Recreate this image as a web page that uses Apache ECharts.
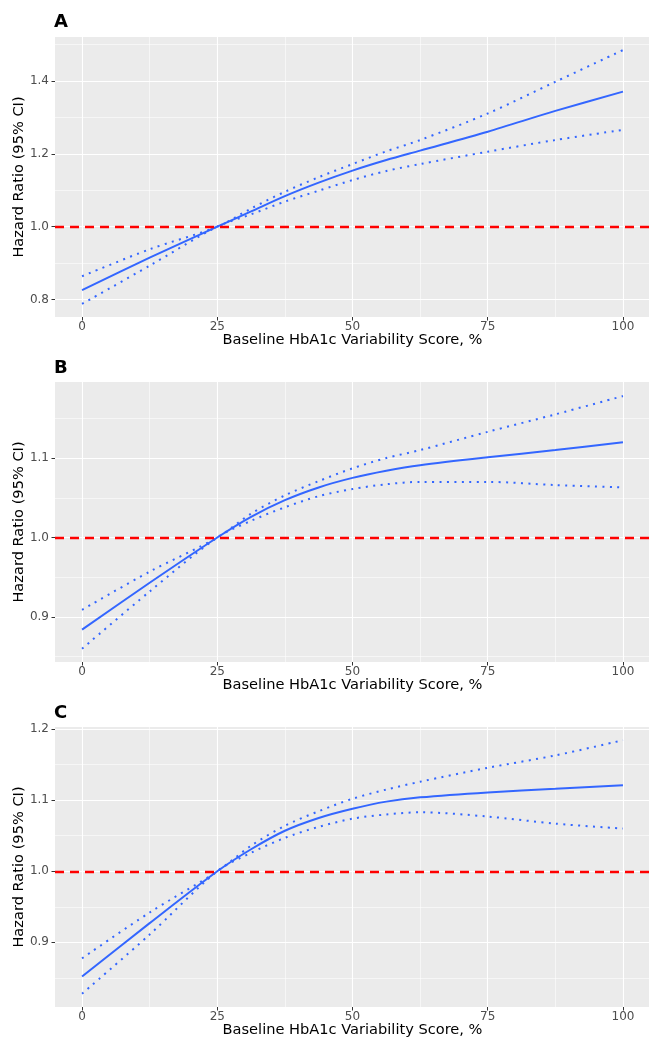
<!DOCTYPE html>
<html><head><meta charset="utf-8">
<script src="https://cdn.jsdelivr.net/npm/echarts@6/dist/echarts.min.js"></script>
<style>html,body{margin:0;padding:0;background:#fff}#c{width:649px;height:1040px}</style>
</head><body><div id="c"></div>
<script>
// HbA1c variability score (%)
const xVals = [0, 12.5, 25, 31.25, 37.5, 43.75, 50, 56.25, 62.5, 75, 87.5, 100];

// Panel A
const aMean  = [0.826, 0.915, 1.0, 1.042, 1.084, 1.121, 1.154, 1.183, 1.209, 1.261, 1.318, 1.371];
const aUpper = [0.864, 0.938, 1.0, 1.050, 1.096, 1.136, 1.172, 1.207, 1.238, 1.311, 1.398, 1.485];
const aLower = [0.788, 0.893, 1.0, 1.034, 1.069, 1.099, 1.128, 1.153, 1.172, 1.206, 1.238, 1.266];

// Panel B
const bMean  = [0.884, 0.943, 1.0, 1.026, 1.047, 1.063, 1.075, 1.084, 1.091, 1.101, 1.110, 1.120];
const bUpper = [0.909, 0.957, 1.0, 1.030, 1.053, 1.071, 1.087, 1.100, 1.110, 1.133, 1.155, 1.178];
const bLower = [0.860, 0.932, 1.0, 1.021, 1.038, 1.052, 1.061, 1.067, 1.070, 1.070, 1.066, 1.063];

// Panel C
const cMean  = [0.852, 0.927, 1.0, 1.031, 1.057, 1.075, 1.088, 1.098, 1.104, 1.111, 1.116, 1.121];
const cUpper = [0.8775, 0.942, 1.0, 1.036, 1.064, 1.0845, 1.102, 1.115, 1.126, 1.1456, 1.163, 1.1845];
const cLower = [0.8277, 0.911, 1.0, 1.026, 1.047, 1.0625, 1.074, 1.080, 1.083, 1.077, 1.067, 1.060];

// tick labels
const xTicks = [0, 25, 50, 75, 100];
const xMinor = [12.5, 37.5, 62.5, 87.5];
const aYTicks = [0.8, 1.0, 1.2, 1.4];
const aYMinor = [0.9, 1.1, 1.3, 1.5];
const bYTicks = [0.9, 1.0, 1.1];
const bYMinor = [0.85, 0.95, 1.05, 1.15];
const cYTicks = [0.9, 1.0, 1.1, 1.2];
const cYMinor = [0.85, 0.95, 1.05, 1.15];

const panelLabels = ['A', 'B', 'C'];
const xTitle = 'Baseline HbA1c Variability Score, %';
const yTitle = 'Hazard Ratio (95% CI)';

const FONT = 'DejaVu Sans';
const BLUE = '#3366FF';

const panels = [
  {top: 37,  yMin: 0.752,  yMax: 1.521, yTicks: aYTicks, yMinor: aYMinor, mean: aMean, upper: aUpper, lower: aLower},
  {top: 382, yMin: 0.8433, yMax: 1.1957, yTicks: bYTicks, yMinor: bYMinor, mean: bMean, upper: bUpper, lower: bLower},
  {top: 727, yMin: 0.809,  yMax: 1.203, yTicks: cYTicks, yMinor: cYMinor, mean: cMean, upper: cUpper, lower: cLower}
];
const titleTops = [13, 359, 704];

const grid = [], xAxis = [], yAxis = [], series = [], title = [];
panels.forEach((p, g) => {
  grid.push({left: 55, right: -1, top: p.top, height: 280, show: true, backgroundColor: '#EBEBEB',
    borderWidth: 0, containLabel: false, outerBoundsMode: 'none'});
  title.push({text: panelLabels[g], left: 54, top: titleTops[g], padding: 0,
    textStyle: {fontFamily: FONT, fontSize: 18, fontWeight: 'bold', color: '#000'}});
  // main x
  xAxis.push({type: 'value', gridIndex: g, min: -5, max: 105, position: 'bottom',
    axisLine: {show: false, onZero: false},
    axisTick: {show: true, customValues: xTicks, length: 3.5, lineStyle: {color: '#333333', width: 1}},
    axisLabel: {customValues: xTicks, color: '#4D4D4D', fontSize: 12, fontFamily: FONT, margin: 4},
    splitLine: {show: true, lineStyle: {color: '#FFFFFF', width: 1.1}},
    name: xTitle, nameLocation: 'middle', nameGap: 16, nameMoveOverlap: false,
    nameTextStyle: {fontFamily: FONT, fontSize: 14.6, color: '#000', verticalAlign: 'top'}
  });
  // minor x
  xAxis.push({type: 'value', gridIndex: g, min: -5, max: 105, position: 'bottom',
    axisLine: {show: false, onZero: false},
    axisTick: {show: false, customValues: xMinor},
    axisLabel: {show: false, customValues: xMinor},
    splitLine: {show: true, lineStyle: {color: '#FFFFFF', width: 0.55}}
  });
  yAxis.push({type: 'value', gridIndex: g, min: p.yMin, max: p.yMax, position: 'left',
    axisLine: {show: false, onZero: false},
    axisTick: {show: true, customValues: p.yTicks, length: 3.5, lineStyle: {color: '#333333', width: 1}},
    axisLabel: {customValues: p.yTicks, color: '#4D4D4D', fontSize: 12, fontFamily: FONT, margin: 6,
      formatter: v => v.toFixed(1)},
    splitLine: {show: true, lineStyle: {color: '#FFFFFF', width: 1.1}},
    name: yTitle, nameLocation: 'middle', nameGap: 28, nameMoveOverlap: false,
    nameTextStyle: {fontFamily: FONT, fontSize: 14.6, color: '#000'}
  });
  yAxis.push({type: 'value', gridIndex: g, min: p.yMin, max: p.yMax, position: 'left',
    axisLine: {show: false, onZero: false},
    axisTick: {show: false, customValues: p.yMinor},
    axisLabel: {show: false, customValues: p.yMinor},
    splitLine: {show: true, lineStyle: {color: '#FFFFFF', width: 0.55}}
  });
  const xi = g * 2, yi = g * 2;
  const mk = arr => xVals.map((x, i) => [x, arr[i]]);
  const dotted = {color: BLUE, width: 2, type: [2, 5.4], cap: 'butt'};
  series.push({type: 'line', xAxisIndex: xi, yAxisIndex: yi, data: mk(p.upper), showSymbol: false,
    smooth: 0.3, lineStyle: dotted, z: 3, silent: true});
  series.push({type: 'line', xAxisIndex: xi, yAxisIndex: yi, data: mk(p.lower), showSymbol: false,
    smooth: 0.3, lineStyle: dotted, z: 3, silent: true});
  series.push({type: 'line', xAxisIndex: xi, yAxisIndex: yi, data: mk(p.mean), showSymbol: false,
    smooth: 0.3, lineStyle: {color: BLUE, width: 2}, z: 4, silent: true,
    markLine: {silent: true, symbol: ['none', 'none'], label: {show: false},
      lineStyle: {color: '#FF0000', width: 2.4, type: [9, 6]}, data: [{yAxis: 1}]}
  });
});

const chart = echarts.init(document.getElementById('c'), null, {renderer: 'canvas'});
chart.setOption({animation: false, backgroundColor: '#FFFFFF', title, grid, xAxis, yAxis, series});
</script>
</body></html>
